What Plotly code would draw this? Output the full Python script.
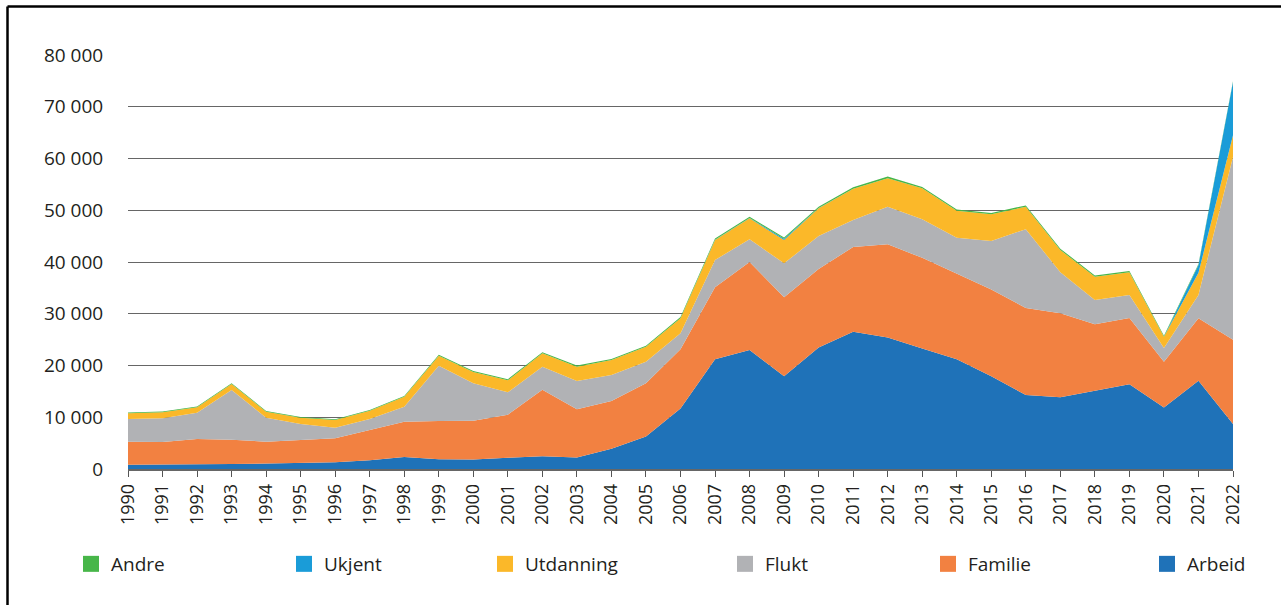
import plotly.graph_objects as go

years = list(range(1990, 2023))

arbeid = [800, 800, 900, 950, 1050, 1150, 1300, 1700, 2300, 1900, 1850, 2150, 2450, 2200,
          3900, 6300, 11700, 21200, 23000, 17900, 23500, 26500, 25400, 23300, 21200, 17900,
          14300, 13850, 15100, 16400, 11900, 17050, 8700]
familie = [4480, 4420, 4900, 4720, 4230, 4390, 4630, 5840, 6850, 7380, 7490, 8350, 12880, 9330,
           9240, 10260, 11420, 13900, 17000, 15300, 15150, 16400, 18050, 17500, 16500, 16800,
           16800, 16230, 12860, 12780, 8840, 12070, 16300]
flukt = [4380, 4570, 5090, 9600, 4640, 3160, 2060, 2120, 2900, 10690, 7220, 4320, 4450, 5470,
         5020, 4180, 3100, 5290, 4380, 6540, 6370, 5200, 7240, 7470, 7000, 9360, 15250, 7930,
         4700, 4440, 2660, 4500, 35300]
utdanning = [1100, 1160, 1030, 1160, 1160, 1220, 1480, 1610, 1930, 1930, 2190, 2330, 2580, 2780,
             2900, 2890, 2900, 3860, 4060, 4510, 5350, 6050, 5510, 5970, 5180, 5150, 4340, 4310,
             4500, 4390, 2170, 4280, 4200]
ukjent = [0, 0, 0, 0, 0, 0, 0, 0, 0, 0, 0, 0, 0, 0, 0, 0, 0, 50, 50, 250, 50, 0, 0, 0, 0, 0,
          0, 0, 0, 0, 0, 1500, 10300]
andre = [150, 150, 150, 150, 150, 150, 150, 150, 150, 200, 200, 200, 200, 200, 200, 200, 250,
         250, 250, 250, 250, 300, 300, 250, 250, 250, 250, 250, 250, 250, 200, 200, 150]

series = [
    ("Arbeid", arbeid, "#1f72b8"),
    ("Familie", familie, "#f28141"),
    ("Flukt", flukt, "#b1b2b5"),
    ("Utdanning", utdanning, "#fbb829"),
    ("Ukjent", ukjent, "#1a9cd8"),
    ("Andre", andre, "#47b649"),
]

# legend symbol centre positions (px) for each entry
legend_centers = {"Andre": 91, "Ukjent": 304, "Utdanning": 505, "Flukt": 745,
                  "Familie": 948, "Arbeid": 1167}

PL, PR, PT, PB = 128, 1233, 55, 469
PW, PH = PR - PL, PB - PT

font_family = "Open Sans, Noto Sans, sans-serif"
text_col = "#231f20"

fig = go.Figure()
for name, vals, col in series:
    fig.add_trace(go.Scatter(
        x=years, y=vals, name=name, stackgroup="one", mode="lines",
        line=dict(width=0, color=col), fillcolor=col, showlegend=False,
    ))

layout_legends = {}
for i, (name, vals, col) in enumerate(series):
    key = "legend" if i == 0 else f"legend{i+1}"
    fig.add_trace(go.Scatter(
        x=[None], y=[None], name=name, mode="markers",
        marker=dict(symbol="square", size=16, color=col),
        legend=key, showlegend=True,
    ))
    cx = legend_centers[name]
    layout_legends[key] = dict(
        x=(cx - 20 - PL) / PW, xanchor="left",
        y=(PB - 564) / PH, yanchor="middle",
        bgcolor="rgba(0,0,0,0)", borderwidth=0,
        font=dict(family=font_family, size=19, color=text_col),
    )

fig.update_layout(
    width=1281, height=605,
    margin=dict(l=PL, r=1281 - PR, t=PT, b=605 - PB),
    paper_bgcolor="white", plot_bgcolor="white",
    separators=", ",
    font=dict(family=font_family, size=19, color=text_col),
    xaxis=dict(
        range=[1990, 2022], tickmode="array", tickvals=years,
        ticktext=[str(y) for y in years], tickangle=-90,
        ticks="outside", ticklen=6, tickcolor="#555", tickwidth=1,
        showline=True, linecolor="#666", linewidth=1.5,
        showgrid=False, zeroline=False,
        tickfont=dict(family=font_family, size=18, color=text_col),
    ),
    yaxis=dict(
        range=[0, 80000], tickvals=[0, 10000, 20000, 30000, 40000, 50000, 60000, 70000, 80000],
        tickformat=",d", showgrid=True, gridcolor="#666666", gridwidth=1.3,
        zeroline=False, showline=False,
        ticks="outside", ticklen=20, tickcolor="rgba(0,0,0,0)",
        tickfont=dict(family=font_family, size=19, color=text_col),
    ),
    hovermode=False,
    **layout_legends,
)

# outer frame (left and top edges visible)
fig.add_shape(type="line", xref="paper", yref="paper",
              x0=(7.5 - PL) / PW, x1=(7.5 - PL) / PW,
              y0=(PB - 6.5) / PH, y1=(PB - 640) / PH,
              line=dict(color="black", width=2.5), layer="above")
fig.add_shape(type="line", xref="paper", yref="paper",
              x0=(7.5 - PL) / PW, x1=(1300 - PL) / PW,
              y0=(PB - 6.5) / PH, y1=(PB - 6.5) / PH,
              line=dict(color="black", width=2.5), layer="above")

fig.write_html("out.html", config={"displayModeBar": False},
               post_script="document.body.style.margin='0px';")
